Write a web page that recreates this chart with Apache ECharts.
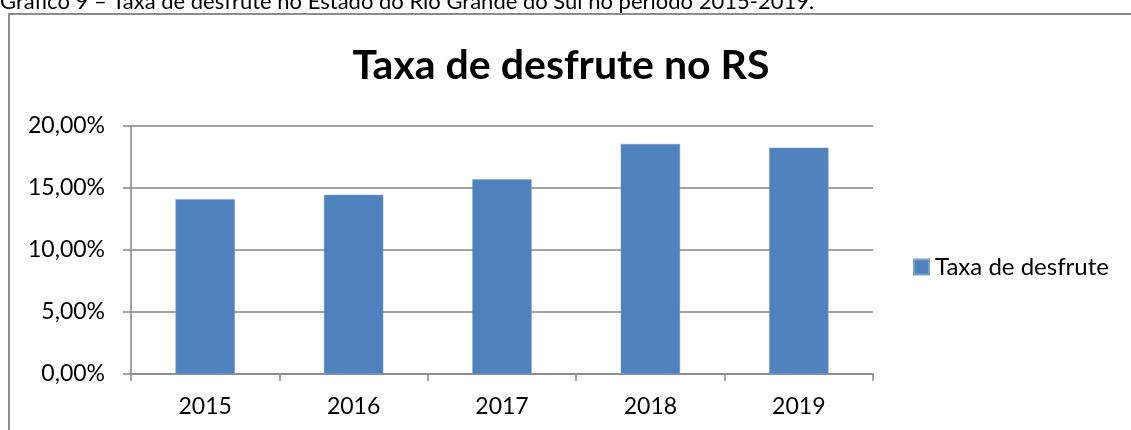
<!doctype html>
<html lang="pt-BR">
<head>
<meta charset="utf-8">
<title>Taxa de desfrute no RS</title>
<style>
  html, body { margin: 0; padding: 0; background: #fff; }
  #mainChart { width: 1131px; height: 430px; }
</style>
</head>
<body>
<div id="mainChart"></div>
<script src="https://cdn.jsdelivr.net/npm/echarts@6/dist/echarts.min.js"></script>
<script>
var anos = ['2015', '2016', '2017', '2018', '2019'];
var taxa = [14.1, 14.45, 15.7, 18.55, 18.25];
var yTicks = [0, 5, 10, 15, 20];

var fonte = 'Lato, "Open Sans", sans-serif';
var cinza = '#868686';

var myChart = echarts.init(document.getElementById('mainChart'));

var option = {
    animation: false,
    textStyle: { fontFamily: fonte },
    title: [
        {
            // legenda do documento, cortada no topo
            text: 'Gráfico 9 – Taxa de desfrute no Estado do Rio Grande do Sul no período 2015-2019.',
            left: 0,
            top: -9,
            padding: 0,
            textStyle: { fontFamily: fonte, fontSize: 22, fontWeight: 'normal', color: '#000' }
        },
        {
            text: 'Taxa de desfrute no RS',
            left: 561,
            textAlign: 'center',
            top: 45,
            padding: 0,
            textStyle: { fontFamily: fonte, fontSize: 41, fontWeight: 'bold', color: '#000' }
        }
    ],
    graphic: [
        {
            type: 'rect',
            shape: { x: 9, y: 14, width: 1140, height: 440 },
            style: { fill: 'none', stroke: '#8c8c8c', lineWidth: 2 },
            silent: true
        }
    ],
    legend: {
        left: 913,
        top: 255,
        padding: 0,
        itemWidth: 15,
        itemHeight: 15,
        itemGap: 10,
        icon: 'rect',
        textStyle: { fontFamily: fonte, fontSize: 24, color: '#000', padding: [0, 0, 0, 1] },
        data: ['Taxa de desfrute']
    },
    grid: {
        left: 131,
        right: 258,
        top: 126,
        bottom: 56,
        containLabel: false
    },
    xAxis: {
        type: 'category',
        data: anos,
        axisLine: { show: true, lineStyle: { color: cinza, width: 1.5 } },
        axisTick: { show: true, length: 7, alignWithLabel: false, lineStyle: { color: cinza, width: 1.5 } },
        axisLabel: { fontFamily: fonte, fontSize: 23, color: '#000', margin: 21 }
    },
    yAxis: {
        type: 'value',
        min: yTicks[0],
        max: yTicks[yTicks.length - 1],
        interval: 5,
        axisLine: { show: true, lineStyle: { color: cinza, width: 1.5 } },
        axisTick: { show: true, length: 8, inside: false, lineStyle: { color: cinza, width: 1.5 } },
        splitLine: { show: true, lineStyle: { color: cinza, width: 1.5 } },
        axisLabel: {
            fontFamily: fonte,
            fontSize: 23,
            color: '#000',
            margin: 26,
            formatter: function (v) { return v.toFixed(2).replace('.', ',') + '%'; }
        }
    },
    series: [
        {
            name: 'Taxa de desfrute',
            type: 'bar',
            data: taxa,
            barCategoryGap: '60%',
            itemStyle: { color: '#4F81BD', borderColor: '#7aa0cf', borderWidth: 0.5 }
        }
    ]
};

myChart.setOption(option);
</script>
</body>
</html>
